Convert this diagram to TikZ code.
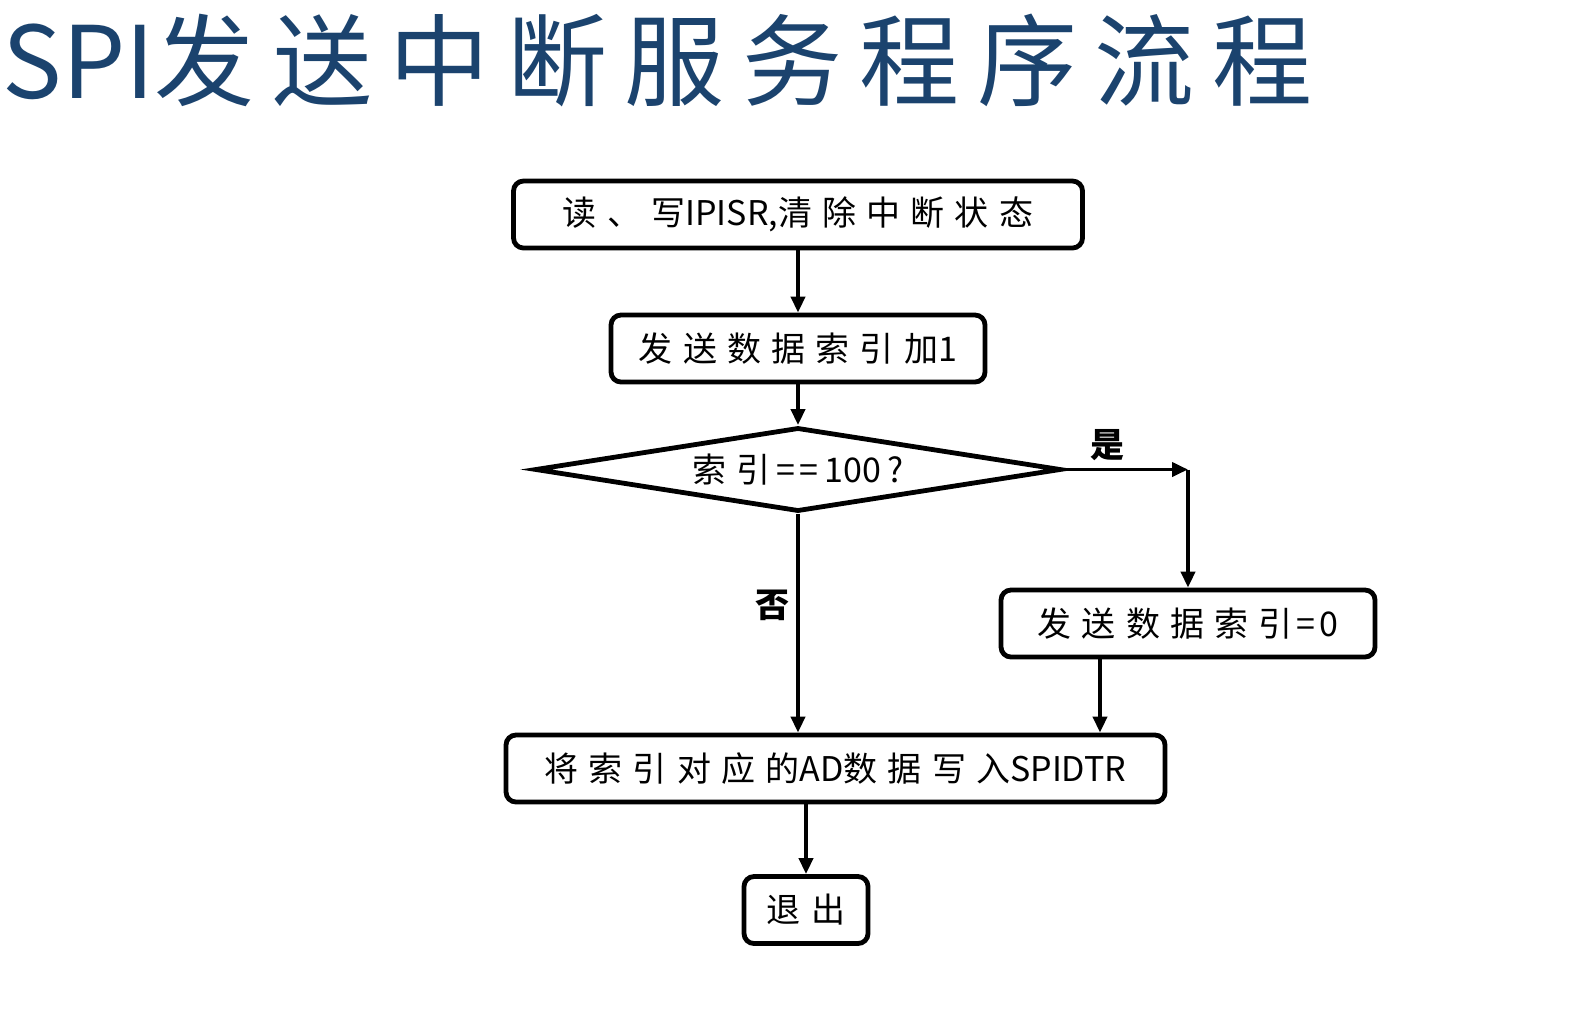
\documentclass[tikz,border=0pt]{standalone}
\usepackage{fontspec}
\setmainfont{Noto Sans CJK SC}
\usetikzlibrary{arrows.meta,positioning,shapes.geometric}
\definecolor{titleblue}{HTML}{1B436E}
% extra space between Chinese characters
\newXeTeXintercharclass\hanclass
\newcount\hanc
\hanc="4E00
\loop\XeTeXcharclass\hanc=\hanclass \advance\hanc by 1 \ifnum\hanc<"A000 \repeat
\XeTeXcharclass"3001=\hanclass
\def\hangap{0.3em}
\XeTeXinterchartoks\hanclass\hanclass={\hskip\hangap\relax}
\XeTeXinterchartokenstate=1

\begin{document}
\begin{tikzpicture}[
  x=0.5pt,y=-0.5pt,
  box/.style={draw,line width=2.4pt,rounded corners=5pt,minimum height=33.5pt,inner sep=0pt,font=\fontsize{17}{20}\selectfont},
  decision/.style={draw,diamond,line width=2.4pt,aspect=6.2,minimum width=263pt,minimum height=42pt,inner sep=0pt,font=\fontsize{17}{20}\selectfont},
  arr/.style={-{Triangle[length=8pt,width=7pt]},line width=1.9pt},
  lbl/.style={font=\fontsize{17}{20}\selectfont\bfseries}
]
  \useasboundingbox (0,0) rectangle (1574,1035);
  \node[anchor=west,inner sep=0pt,text=titleblue,font=\fontsize{50}{56}\selectfont\def\hangap{0.175em}] (title) at (2,60) {SPI发送中断服务程序流程};

  \node[box,minimum width=284.5pt] (clr) at (798,214.5) {读、写IPISR,清除中断状态};
  \node[box,minimum width=187pt] (inc) at (798,348.5) {发送数据索引加1};
  \node[decision] (chk) at (798,469.5) {索引\kern3pt=\kern2pt=\kern3pt100\kern3pt?};
  \node[box,minimum width=187pt] (idx0) at (1188,623.5) {发送数据索引\kern2pt=\kern2pt0};
  \node[box,minimum width=329.5pt] (wr) at (835.5,768.5) {将索引对应的AD数据写入SPIDTR};
  \node[box,minimum width=62pt] (quit) at (806,910) {退出};
  \coordinate (yes) at (chk.east -| idx0);
  \coordinate (join) at (1100,0);

  \draw[arr] (clr) -- (inc);
  \draw[arr] (inc) -- (chk);
  \draw[arr] (chk.east) -- node[lbl,above,pos=0.35]{是} (yes);
  \draw[arr] (yes) -- (idx0);
  \draw[arr] (chk.south) -- node[lbl,left,pos=0.42]{否} (wr.north -| chk.south);
  \draw[arr] (idx0.south -| join) -- (wr.north -| join);
  \draw[arr] (wr.south -| quit) -- (quit);
\end{tikzpicture}
\end{document}
